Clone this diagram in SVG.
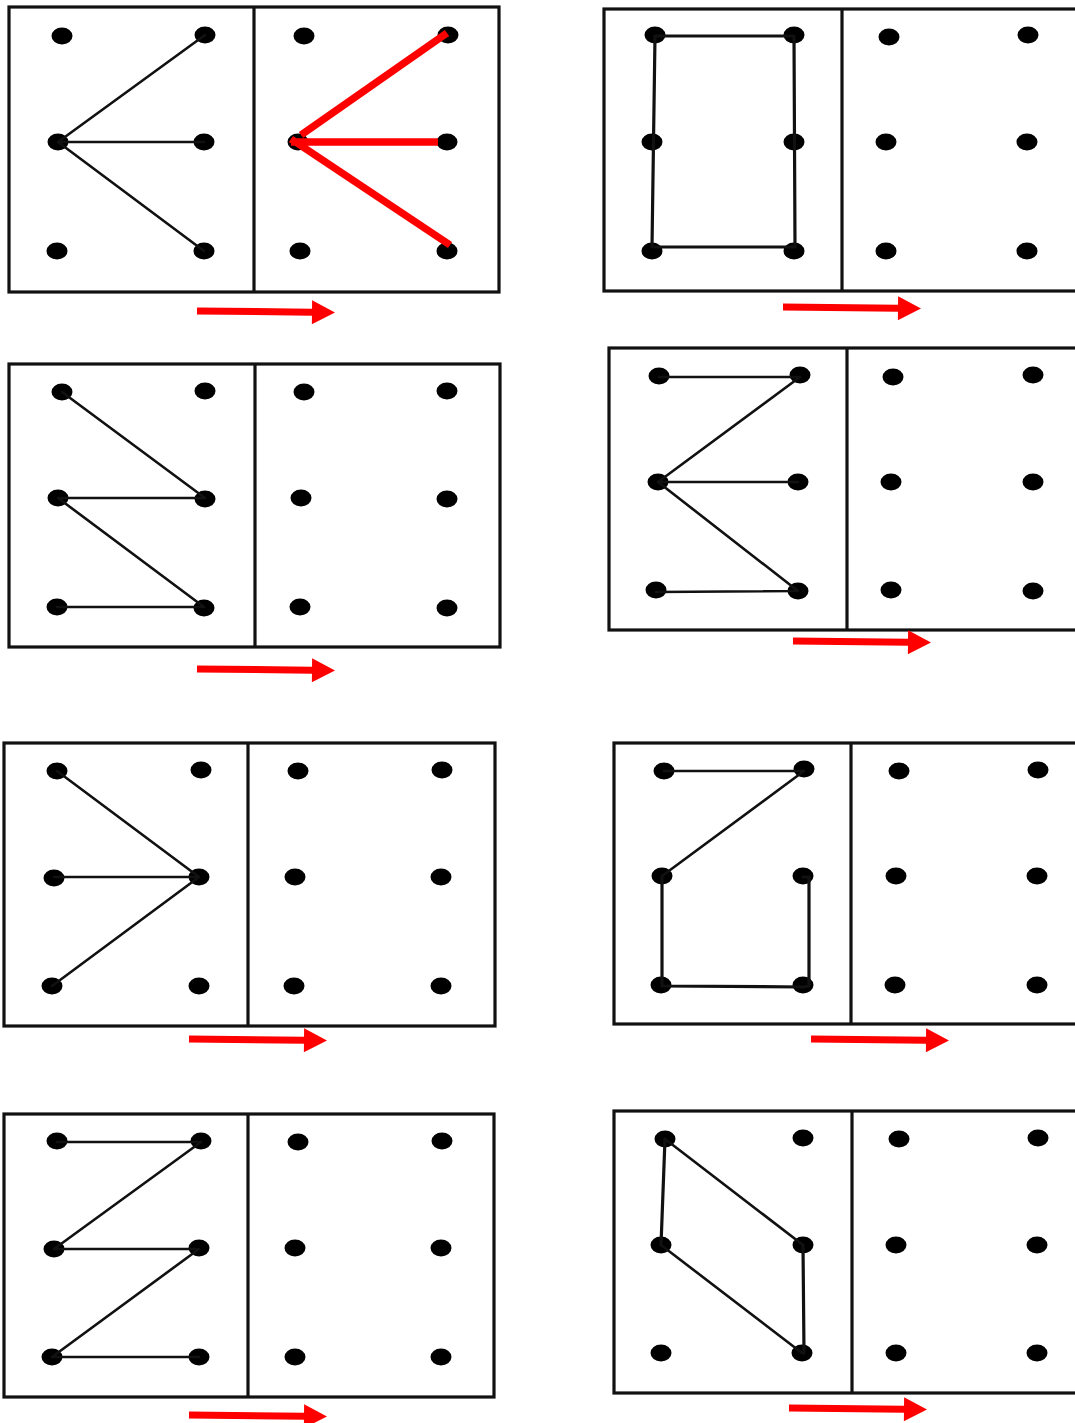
<svg xmlns="http://www.w3.org/2000/svg" xmlns:xlink="http://www.w3.org/1999/xlink" width="1075" height="1423" viewBox="0 0 1075 1423">
<style>
.frame{fill:#fff;stroke:#111;stroke-width:3.2}
.div{stroke:#111;stroke-width:3.2}
.fig{fill:none;stroke:#111;stroke-width:2.6;stroke-linecap:round;stroke-linejoin:round}
.figb{fill:none;stroke:#111;stroke-width:3.2;stroke-linecap:round;stroke-linejoin:round}
.red{fill:none;stroke:#ff0000;stroke-width:7.5}
.arr{fill:#ff0000}
</style>
<defs>
<ellipse id="dot" cx="0" cy="0" rx="10.5" ry="8.5" fill="#000"/>
<path id="arrow" d="M0,-3.5 H115 V-12 L138,0 L115,12 V3.5 H0 Z"/>
</defs>
<rect width="1075" height="1423" fill="#fff"/>

<g id="panel1">
<rect class="frame" x="9" y="7" width="490" height="285"/>
<line class="div" x1="254" y1="7" x2="254" y2="292"/>
<use href="#dot" x="62" y="36"/><use href="#dot" x="205" y="35"/><use href="#dot" x="58" y="142"/><use href="#dot" x="204" y="142"/><use href="#dot" x="57" y="251"/><use href="#dot" x="204" y="251"/>
<use href="#dot" x="304" y="36"/><use href="#dot" x="448" y="35"/><use href="#dot" x="298" y="142"/><use href="#dot" x="447" y="142"/><use href="#dot" x="300" y="251"/><use href="#dot" x="447" y="251"/>
</g>
<g id="panel2">
<rect class="frame" x="604" y="9" width="480" height="282"/>
<line class="div" x1="842" y1="9" x2="842" y2="291"/>
<use href="#dot" x="655" y="35"/><use href="#dot" x="794" y="35"/><use href="#dot" x="652" y="142"/><use href="#dot" x="794" y="142"/><use href="#dot" x="652" y="251"/><use href="#dot" x="794" y="251"/>
<use href="#dot" x="889" y="37"/><use href="#dot" x="1028" y="35"/><use href="#dot" x="886" y="142"/><use href="#dot" x="1027" y="142"/><use href="#dot" x="886" y="251"/><use href="#dot" x="1027" y="251"/>
</g>
<g id="panel3">
<rect class="frame" x="9" y="364" width="491" height="283"/>
<line class="div" x1="255" y1="364" x2="255" y2="647"/>
<use href="#dot" x="62" y="392"/><use href="#dot" x="205" y="391"/><use href="#dot" x="58" y="498"/><use href="#dot" x="205" y="499"/><use href="#dot" x="57" y="607"/><use href="#dot" x="204" y="608"/>
<use href="#dot" x="304" y="392"/><use href="#dot" x="447" y="391"/><use href="#dot" x="301" y="498"/><use href="#dot" x="447" y="499"/><use href="#dot" x="300" y="607"/><use href="#dot" x="447" y="608"/>
</g>
<g id="panel4">
<rect class="frame" x="609" y="348" width="475" height="282"/>
<line class="div" x1="847" y1="348" x2="847" y2="630"/>
<use href="#dot" x="659" y="376"/><use href="#dot" x="800" y="375"/><use href="#dot" x="658" y="482"/><use href="#dot" x="798" y="482"/><use href="#dot" x="656" y="590"/><use href="#dot" x="798" y="591"/>
<use href="#dot" x="893" y="377"/><use href="#dot" x="1033" y="375"/><use href="#dot" x="891" y="482"/><use href="#dot" x="1033" y="482"/><use href="#dot" x="891" y="590"/><use href="#dot" x="1033" y="591"/>
</g>
<g id="panel5">
<rect class="frame" x="4" y="743" width="491" height="283"/>
<line class="div" x1="248" y1="743" x2="248" y2="1026"/>
<use href="#dot" x="57" y="771"/><use href="#dot" x="201" y="770"/><use href="#dot" x="54" y="878"/><use href="#dot" x="199" y="877"/><use href="#dot" x="52" y="986"/><use href="#dot" x="199" y="986"/>
<use href="#dot" x="298" y="771"/><use href="#dot" x="442" y="770"/><use href="#dot" x="295" y="877"/><use href="#dot" x="441" y="877"/><use href="#dot" x="294" y="986"/><use href="#dot" x="441" y="986"/>
</g>
<g id="panel6">
<rect class="frame" x="614" y="743" width="470" height="281"/>
<line class="div" x1="851" y1="743" x2="851" y2="1024"/>
<use href="#dot" x="664" y="771"/><use href="#dot" x="804" y="769"/><use href="#dot" x="662" y="876"/><use href="#dot" x="803" y="876"/><use href="#dot" x="661" y="985"/><use href="#dot" x="803" y="985"/>
<use href="#dot" x="899" y="771"/><use href="#dot" x="1038" y="770"/><use href="#dot" x="896" y="876"/><use href="#dot" x="1037" y="876"/><use href="#dot" x="895" y="985"/><use href="#dot" x="1037" y="985"/>
</g>
<g id="panel7">
<rect class="frame" x="4" y="1114" width="490" height="283"/>
<line class="div" x1="248" y1="1114" x2="248" y2="1397"/>
<use href="#dot" x="57" y="1141"/><use href="#dot" x="201" y="1141"/><use href="#dot" x="54" y="1249"/><use href="#dot" x="199" y="1248"/><use href="#dot" x="52" y="1357"/><use href="#dot" x="199" y="1357"/>
<use href="#dot" x="298" y="1142"/><use href="#dot" x="442" y="1141"/><use href="#dot" x="295" y="1248"/><use href="#dot" x="441" y="1248"/><use href="#dot" x="295" y="1357"/><use href="#dot" x="441" y="1357"/>
</g>
<g id="panel8">
<rect class="frame" x="614" y="1111" width="470" height="282"/>
<line class="div" x1="852" y1="1111" x2="852" y2="1393"/>
<use href="#dot" x="665" y="1139"/><use href="#dot" x="803" y="1138"/><use href="#dot" x="661" y="1245"/><use href="#dot" x="803" y="1245"/><use href="#dot" x="661" y="1353"/><use href="#dot" x="802" y="1353"/>
<use href="#dot" x="899" y="1139"/><use href="#dot" x="1038" y="1138"/><use href="#dot" x="896" y="1245"/><use href="#dot" x="1037" y="1245"/><use href="#dot" x="896" y="1353"/><use href="#dot" x="1037" y="1353"/>
</g>

<g id="connectors">
<path class="fig" d="M205,35 L58,142 L204,142 M58,142 L204,251"/>
<path class="red" d="M447,33 L301,135 M291,139 L450,245 M291,142 L438,142"/>
<path class="figb" d="M655,36 L794,36 L795,247 L652,247 Z"/>
<path class="fig" d="M62,392 L205,498 L58,498 L204,607 L57,607"/>
<path class="fig" d="M659,377 L800,377 L658,482 L798,482 M658,482 L798,591 L656,592"/>
<path class="fig" d="M57,771 L199,877 L54,877 M199,877 L52,986"/>
<path class="fig" d="M664,771 L804,771 L662,876"/>
<path class="figb" d="M662,876 L662,986 L803,987 L809,986 L809,877 L803,877"/>
<path class="fig" d="M57,1142 L201,1142 L54,1249 L199,1249 L52,1357 L199,1357"/>
<path class="fig" d="M665,1139 L803,1245 M661,1245 L802,1353"/>
<path class="figb" d="M665,1139 L661,1245 M803,1245 L804,1353"/>
</g>

<g id="arrows" class="arr">
<use href="#arrow" transform="translate(197,311) rotate(0.6)"/>
<use href="#arrow" transform="translate(783,307) rotate(0.6)"/>
<use href="#arrow" transform="translate(197,669) rotate(0.6)"/>
<use href="#arrow" transform="translate(793,641) rotate(0.6)"/>
<use href="#arrow" transform="translate(189,1039) rotate(0.6)"/>
<use href="#arrow" transform="translate(811,1039) rotate(0.6)"/>
<use href="#arrow" transform="translate(189,1415) rotate(0.6)"/>
<use href="#arrow" transform="translate(789,1408) rotate(0.6)"/>
</g>
</svg>
